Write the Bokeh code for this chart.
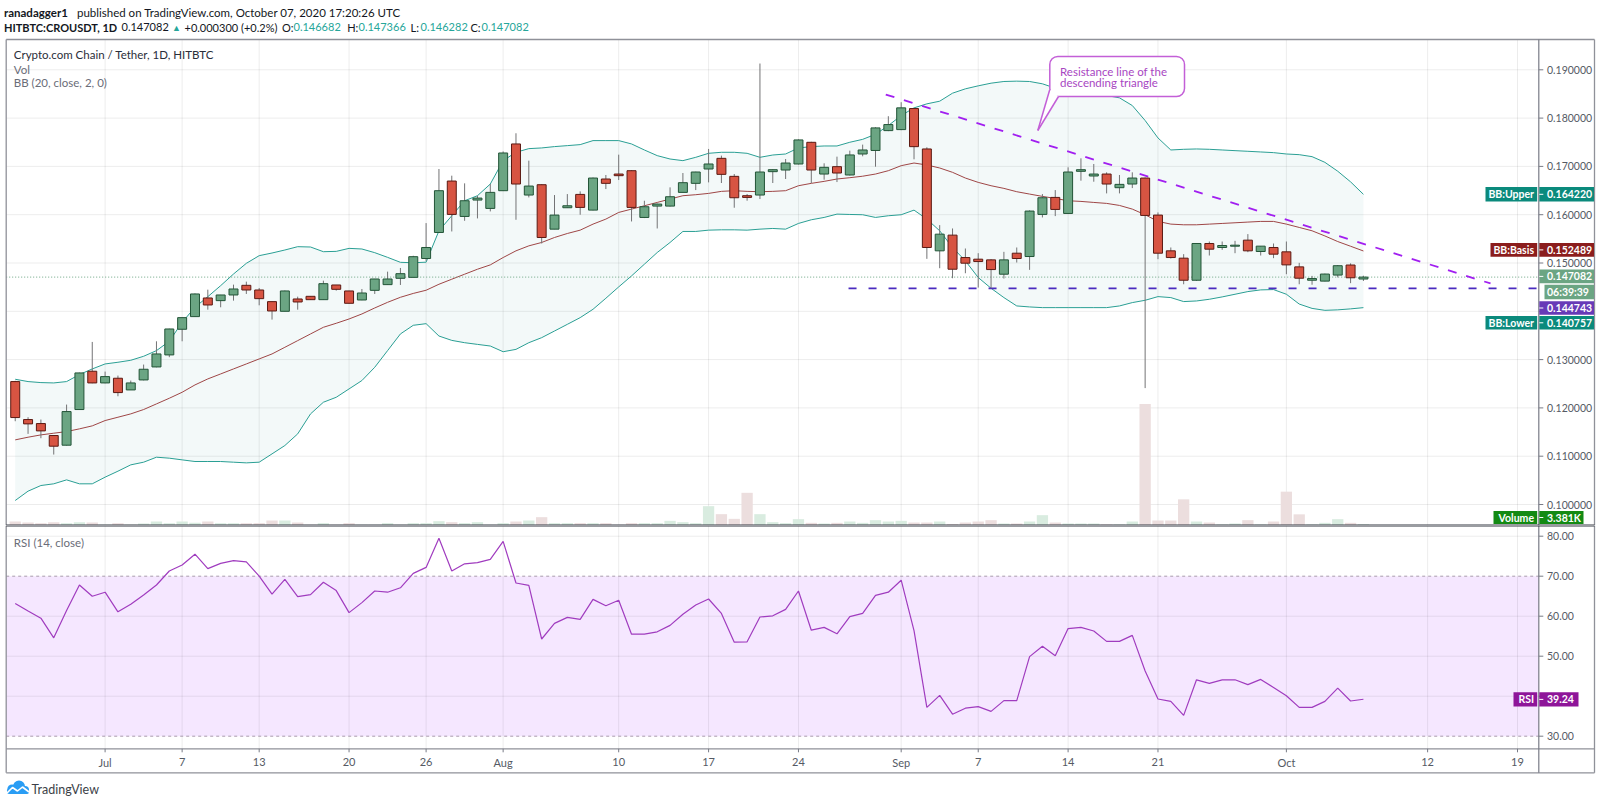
import datetime as dt
from bokeh.plotting import figure
from bokeh.models import ColumnDataSource, Range1d
from bokeh.layouts import column
from bokeh.embed import file_html
from bokeh.resources import INLINE
from bokeh.core.properties import value

FONT = "Lato"

# ---------------- data ----------------
first_day = dt.date(2020, 6, 24)

open_ = [
    .12545, .11759, .11676, .11428, .11228, .11966, .12759,
    .12517, .12614, .12372, .12579, .12848, .13097, .13628, .1389, .14276, .14221, .14338, .14538, .14441, .142,
    .14, .14255, .1431, .14241, .14545, .14421, .14234, .14434, .14552, .14683, .14703, .15093, .15632, .16697,
    .15964, .16303, .1613,
    .16497, .17465, .16407, .16621, .15701, .16144, .1642, .16095, .16739, .16842, .16911, .15943, .16178, .16178,
    .16462, .16649, .16946, .17167, .16794, .16393, .16407, .16891, .16925, .1705, .17499, .16842, .16995, .16822,
    .17257, .1733, .17741,
    .17762, .18198, .17361, .15252, .15577, .15113, .15079, .15065, .14768, .15203, .15134, .16006, .16358, .16026,
    .16898, .16801, .16842, .16559, .16635, .16759, .15992, .15252, .151, .14643, .15404, .15321, .15348, .15473,
    .15238, .15321,
    .15231, .1492, .14643, .14625, .1475, .14958, .146682]
high = [
    .1256, .11807, .11759, .1143, .12069, .1273, .13366,
    .12752, .12669, .12566, .12897, .13379, .1364, .1387, .1437, .14448, .1434, .14552, .14614, .14483, .142,
    .1443, .14303, .1431, .14634, .14545, .14425, .14462, .1467, .14821, .14897, .1515, .15826, .16946, .16808,
    .16649, .16393, .16635,
    .1731, .17686, .17119, .1663, .16407, .16427, .16483, .1677, .16822, .17243, .1692, .16289, .1623, .16566,
    .16863, .1689, .17361, .17223, .16842, .16427, .1913, .1694, .17153, .1756, .1751, .17064, .17202, .17326,
    .17451, .1781, .18039,
    .18329, .1821, .17396, .15784, .15715, .153, .15203, .1508, .15231, .15321, .1609, .16427, .1651, .16981,
    .17167, .1705, .16877, .16822, .16877, .1677, .16047, .15321, .15183, .1541, .15445, .15445, .15459, .15598,
    .1535, .15404,
    .15445, .15003, .14733, .1478, .14958, .14993, .147366]
low = [
    .11724, .11462, .11372, .11034, .1122, .1196, .1251,
    .1251, .12241, .1237, .1257, .1284, .1305, .13379, .1389, .14034, .14083, .14221, .14359, .14124, .13828,
    .14, .14034, .1424, .1424, .14428, .1416, .1423, .14359, .1455, .14545, .147, .15044, .1563, .15653,
    .15874, .15923, .16068,
    .1649, .15895, .16358, .15404, .157, .1614, .15999, .1609, .16531, .16718, .1586, .1593, .15715, .1617,
    .1646, .1651, .16669, .16656, .16144, .1629, .16324, .16656, .16739, .1704, .16656, .16725, .16676, .1681,
    .17209, .16994, .1773,
    .1775, .17147, .15086, .14892, .14685, .14788, .14491, .14477, .14678, .1501, .14858, .15943, .15971, .1602,
    .16704, .16683, .16441, .16441, .16551, .1241, .15079, .15093, .1456, .1463, .15155, .15273, .15203, .15224,
    .15155, .151,
    .14768, .1456, .1455, .1462, .14701, .14583, .146282]
close_ = [
    .1180, .11669, .11524, .11207, .11924, .12724, .12517,
    .12648, .12317, .12517, .128, .13117, .13634, .13869, .14359, .14131, .14338, .14462, .14441, .14262, .14007,
    .14421, .14193, .14241, .14572, .14455, .14166, .14379, .14669, .14669, .14779, .15131, .15321, .16497, .16006,
    .16289, .16344, .16462,
    .17278, .16635, .16593, .15528, .15992, .16185, .16151, .16759, .16649, .16808, .16151, .16165, .1622, .16372,
    .16663, .16884, .1705, .16835, .16351, .16358, .16884, .16932, .1707, .17548, .16925, .16981, .16863, .17237,
    .1734, .17797, .17866,
    .18212, .17409, .15321, .15597, .14871, .14996, .1503, .14864, .15065, .15093, .16075, .16351, .16109, .16884,
    .16932, .16842, .16635, .16628, .16759, .15985, .15203, .15113, .14643, .15404, .15286, .15362, .15369, .15252,
    .15349, .15183,
    .14961, .14685, .14678, .14771, .14944, .14694, .147082]
volume_k = [
    10.4, 7.8, 6.1, 8.7, 6.1, 8.7, 7.8,
    1.7, 6.1, 1.7, 5.2, 10.4, 6.1, 10.4, 6.9, 10.4, 6.1, 6.1, 6.1, 6.1, 13.0, 13.0, 7.8, 1.7, 6.1, 1.7, 6.1,
    1.7, 1.7, 6.1, 1.7, 6.1, 6.1, 11.3, 8.7, 6.1, 8.7, 1.7,
    6.1, 10.4, 13.0, 21.7, 6.1, 6.1, 6.1, 6.1, 6.1, 1.7, 6.1, 6.1, 6.1, 12.1, 8.7, 6.1, 50.3, 29.5, 17.3, 85.0,
    29.5, 8.7, 6.1, 16.5, 6.9, 5.2, 6.9, 10.4, 6.9, 13.9, 10.4,
    12.1, 7.8, 7.8, 10.4, 3.5, 7.8, 10.4, 13.9, 5.2, 5.2, 10.4, 26.9, 7.8, 5.2, 5.2, 5.2, 2.6, 2.6, 10.4, 316.0,
    13.0, 13.0, 68.0, 10.4, 7.8, 2.6, 5.2, 13.9, 2.6, 10.4,
    88.0, 29.0, 2.6, 6.9, 16.5, 6.9, 3.381]
bb_upper = [
    .12593, .12545, .12524, .12517, .12545, .1269, .12807,
    .1291, .12945, .12986, .13069, .13186, .13379, .13772, .14083, .14303, .14531, .14772, .14993, .15152, .15207,
    .15269, .15338, .15331, .15234, .15241, .15303, .1529, .15214, .15117, .15014, .15005, .15017, .15667, .15978,
    .16289, .16393, .16635,
    .17119, .17292, .17368, .17382, .1741, .1743, .17451, .17534, .17534, .17534, .17465, .1734, .17223, .17153,
    .17119, .17188, .17271, .17292, .17292, .17271, .17188, .17236, .17257, .17382, .1741, .17423, .17423, .175,
    .1756, .17665, .17845,
    .18053, .18212, .18295, .1835, .18516, .18606, .18668, .18723, .18758, .18765, .18758, .1871, .1862, .1855,
    .18523, .18516, .18467, .1842, .1826, .1795, .17589, .1734, .17354, .17361, .17354, .1734, .17326, .17313,
    .17299, .17285,
    .17257, .17243, .17202, .17084, .169, .1668, .16422]
bb_basis = [
    .11338, .11393, .11441, .11476, .1151, .11566, .11628,
    .11738, .11807, .11876, .11966, .12083, .122, .12324, .12476, .126, .12703, .12807, .1291, .13014, .13117,
    .13255, .13393, .13531, .13669, .13752, .13841, .13945, .14069, .14186, .1429, .1437, .14436, .1456, .14664,
    .14768, .14871, .14961,
    .15113, .15252, .15355, .15425, .15528, .15611, .1568, .15805, .15909, .16047, .16116, .16185, .16254, .16324,
    .16393, .16414, .16441, .16483, .16497, .16483, .16476, .16483, .16497, .166, .16649, .1669, .16739, .16766,
    .16797, .16842, .16911,
    .17015, .1707, .17029, .16967, .16877, .16759, .16669, .166, .16545, .16476, .16427, .16379, .16337, .16289,
    .16275, .16254, .16234, .16192, .16116, .15999, .15861, .15805, .15791, .15791, .15805, .15819, .15833, .15847,
    .15861, .15861,
    .15805, .15736, .15667, .1556, .15444, .15347, .152489]
bb_lower = [
    .10083, .10276, .10393, .10428, .1051, .10428, .10428,
    .10566, .1069, .10821, .10876, .10979, .10959, .10924, .1089, .1089, .1089, .10876, .10862, .10876, .11048,
    .11221, .11462, .11876, .12117, .1222, .12393, .12566, .12841, .13186, .13531, .1371, .13744, .13488, .13398,
    .1335, .13315, .13281,
    .13163, .13212, .1335, .13454, .13592, .1373, .13869, .14042, .1427, .14505, .14733, .14975, .15217, .15425,
    .15653, .15653, .1568, .15687, .15687, .1568, .15701, .15715, .15701, .15819, .15895, .15943, .16012, .16005,
    .15999, .15943, .15978,
    .15999, .16095, .15909, .15667, .15321, .15044, .14699, .14477, .14284, .14111, .1409, .14076, .14076, .14076,
    .14076, .14076, .14076, .14111, .1418, .14228, .14304, .14284, .14201, .14214, .14249, .14298, .14353, .14408,
    .14443, .1445,
    .14353, .1415, .1406, .1402, .1403, .1405, .140757]
rsi = [
    63.2, 61.3, 59.5, 54.6, 61.4, 67.8, 65.0,
    66.0, 61.1, 63.0, 65.3, 67.8, 71.3, 72.8, 75.5, 71.9, 73.2, 73.9, 73.6, 70.0, 65.5, 69.2, 64.9, 65.4, 68.5,
    66.4, 60.9, 63.4, 66.3, 66.0, 67.1, 70.7, 72.2, 79.5, 71.3, 73.1, 73.4, 74.2,
    78.7, 68.3, 67.7, 54.3, 58.2, 59.7, 59.2, 64.2, 62.6, 64.0, 55.5, 55.5, 56.1, 57.7, 60.5, 62.8, 64.3, 60.7,
    53.5, 53.6, 59.8, 60.1, 61.7, 66.3, 56.5, 57.2, 55.6, 59.9, 60.7, 65.2, 66.0,
    69.0, 56.4, 37.2, 40.2, 35.5, 37.0, 37.4, 36.2, 38.9, 38.9, 49.9, 52.5, 50.1, 56.9, 57.2, 56.3, 53.7, 53.7,
    55.2, 46.3, 39.3, 38.7, 35.2, 44.1, 43.2, 44.1, 44.1, 42.9, 44.2, 42.2,
    40.1, 37.2, 37.2, 38.7, 42.0, 38.8, 39.24]

tick_dates = [dt.date(2020, 7, 1), dt.date(2020, 7, 7), dt.date(2020, 7, 13), dt.date(2020, 7, 20),
              dt.date(2020, 7, 26), dt.date(2020, 8, 1), dt.date(2020, 8, 10), dt.date(2020, 8, 17),
              dt.date(2020, 8, 24), dt.date(2020, 9, 1), dt.date(2020, 9, 7), dt.date(2020, 9, 14),
              dt.date(2020, 9, 21), dt.date(2020, 10, 1), dt.date(2020, 10, 12), dt.date(2020, 10, 19)]
tick_labels = ["Jul", "7", "13", "20", "26", "Aug", "10", "17", "24", "Sep", "7", "14", "21", "Oct", "12", "19"]
price_ticks = [0.10, 0.11, 0.12, 0.13, 0.14, 0.15, 0.16, 0.17, 0.18, 0.19]
price_tick_labels = ["0.100000", "0.110000", "0.120000", "0.130000", "", "0.150000",
                     "0.160000", "0.170000", "0.180000", "0.190000"]
rsi_ticks = [30, 40, 50, 60, 70, 80]
rsi_tick_labels = ["30.00", "", "50.00", "60.00", "70.00", "80.00"]
rsi_grid = [40, 50, 60, 80]
rsi_bands = [30, 70]

support_level = 0.144743
support_start = 57.9            # days after Jul 1
resistance_days = [60.8, 107.9]
resistance_prices = [0.18488, 0.14576]

# ---------------- geometry helpers (page pixels -> data) ----------------
ref = dt.date(2020, 7, 1)
n = len(close_)
xd = [((first_day + dt.timedelta(days=i)) - ref).days for i in range(n)]
tick_x = [(d - ref).days for d in tick_dates]

PX_JUL1, PX_DAY = 104.6, 12.84
def dx(px):
    return (px - PX_JUL1) / PX_DAY
def py(y):
    return 0.19 - (y - 69.3) / 4830.0
def ry(y):
    return 80.0 - (y - 535.7) / 4.0

W = 1600
H1, H2 = 525, 279
PANE_L, AXIS_X, OUT_R = 5.7, 1538.3, 1594
TOP_Y, SEP_Y, RSI_B, OUT_B = 39, 525, 748.3, 772.3

UP_FILL, UP_LINE = "#6ba583", "#225437"
DN_FILL, DN_LINE = "#d75442", "#5b1a13"
BORDER = "#8f9199"
TICKTXT = "#555a64"

x_range = Range1d(dx(0), dx(W))


def txt(fig, x, y, s, color, size="11.5px", style="normal", align="left"):
    fig.text(x=x if isinstance(x, list) else [x], y=y if isinstance(y, list) else [y],
             text=s if isinstance(s, list) else [s], text_color=color, text_font=value(FONT),
             text_font_size=value(size), text_font_style=value(style), text_align=value(align),
             text_baseline=value("middle"))


def box(fig, conv, l, r, t, b, color):
    fig.quad(left=dx(l), right=dx(r), top=conv(t), bottom=conv(b), fill_color=color,
             line_color=None)


def tag(fig, conv, yc, h, lab_text, val_text, color, val_left=AXIS_X + 0.5, lab_left=None,
        val_right=1593.5):
    t, b = yc - h / 2, yc + h / 2
    if lab_text:
        box(fig, conv, lab_left, AXIS_X - 1.6, t, b, color)
        txt(fig, dx(1533.5), conv(yc), lab_text, "white", size="10.5px", style="bold", align="right")
    box(fig, conv, val_left, val_right, t, b, color)
    if val_left <= AXIS_X + 1:
        fig.segment(x0=dx(AXIS_X + 0.5), x1=dx(AXIS_X + 4.5), y0=conv(yc), y1=conv(yc),
                    line_color="white", line_width=1)
    txt(fig, dx(1546.5), conv(yc), val_text, "white", size="10.5px", style="bold")


def make_fig(height, y_range):
    f = figure(width=W, height=height, x_range=x_range, y_range=y_range, title=None,
               x_axis_location=None, y_axis_location=None, toolbar_location=None, tools="",
               output_backend="svg", min_border=0, background_fill_color="white",
               border_fill_color="white", outline_line_color=None)
    f.grid.visible = False
    return f


# ================= main price pane =================
p1 = make_fig(H1, Range1d(py(H1), py(0)))

# grid
p1.segment(x0=tick_x, x1=tick_x, y0=[py(TOP_Y)] * len(tick_x), y1=[py(SEP_Y)] * len(tick_x),
           line_color="#000000", line_alpha=0.075, line_width=1)
p1.segment(x0=[dx(PANE_L)] * len(price_ticks), x1=[dx(AXIS_X)] * len(price_ticks),
           y0=price_ticks, y1=price_ticks, line_color="#000000", line_alpha=0.075, line_width=1)

# volume overlay (own scale)
p1.extra_y_ranges = {"vol": Range1d(0, H1 * 2.6)}
vol_col = ["#d9ece0" if c >= o else "#ecdede" for o, c in zip(open_, close_)]
p1.vbar(x=xd, top=volume_k, bottom=0, width=0.88, fill_color=vol_col, line_color=None,
        y_range_name="vol")

# bollinger bands
p1.varea(x=xd, y1=bb_lower, y2=bb_upper, fill_color="#138484", fill_alpha=0.05)
p1.line(xd, bb_upper, line_color="#2a9f94", line_width=1)
p1.line(xd, bb_lower, line_color="#2a9f94", line_width=1)
p1.line(xd, bb_basis, line_color="#9e4646", line_width=1)

# last price dotted line
p1.line([dx(PANE_L), dx(AXIS_X)], [close_[-1], close_[-1]], line_color="#6ba583",
        line_dash="1 2", line_width=1)

# support (horizontal) and resistance (descending) lines
p1.line([support_start, dx(AXIS_X)], [support_level, support_level], line_color="#4a2bbf",
        line_dash="8 12", line_width=1.6)
p1.line(resistance_days, resistance_prices, line_color="#a11ff0", line_dash="9 10", line_width=1.8)

# candles
tops = [max(o, c) for o, c in zip(open_, close_)]
bots = [min(o, c) for o, c in zip(open_, close_)]
fills = [UP_FILL if c >= o else DN_FILL for o, c in zip(open_, close_)]
lines = [UP_LINE if c >= o else DN_LINE for o, c in zip(open_, close_)]
src = ColumnDataSource(dict(x=xd, h=high, l=low, top=tops, bot=bots, fill=fills, line=lines))
p1.segment(x0="x", y0="h", x1="x", y1="l", line_color="#737375", line_width=1, source=src)
p1.vbar(x="x", width=0.7, top="top", bottom="bot", fill_color="fill", line_color="line",
        line_width=1, source=src)

# callout
CALL = "#c35fd7"
p1.quad(left=dx(1049.3), right=dx(1184), top=py(56), bottom=py(96), fill_color="white",
        line_color=CALL, line_width=1.5, border_radius=8)
p1.patch([dx(1049.3), dx(1058), dx(1037.3)], [py(89), py(96), py(130)], fill_color="white",
         line_color=None)
p1.multi_line(xs=[[dx(1049.3), dx(1037.3)], [dx(1058), dx(1037.3)]],
              ys=[[py(89), py(130)], [py(96), py(130)]], line_color=CALL, line_width=1.5)
txt(p1, dx(1059.5), py(70.5), "Resistance line of the", "#a846c2")
txt(p1, dx(1059.5), py(81.5), "descending triangle", "#a846c2")

# pane borders and price axis
p1.segment(x0=[dx(PANE_L), dx(PANE_L), dx(OUT_R)], x1=[dx(OUT_R), dx(PANE_L), dx(OUT_R)],
           y0=[py(TOP_Y), py(TOP_Y), py(TOP_Y)], y1=[py(TOP_Y), py(SEP_Y), py(SEP_Y)],
           line_color=BORDER, line_width=1.3)
p1.segment(x0=[dx(AXIS_X)], x1=[dx(AXIS_X)], y0=[py(TOP_Y)], y1=[py(SEP_Y)],
           line_color="#787b86", line_width=1.2)
p1.segment(x0=[dx(AXIS_X)] * len(price_ticks), x1=[dx(AXIS_X + 4.5)] * len(price_ticks),
           y0=price_ticks, y1=price_ticks, line_color="#787b86", line_width=1)
txt(p1, [dx(1546.5)] * len(price_ticks), price_ticks, price_tick_labels, TICKTXT, size="10.5px")
p1.segment(x0=[dx(PANE_L)], x1=[dx(OUT_R)], y0=[py(SEP_Y)], y1=[py(SEP_Y)],
           line_color="#363a45", line_width=2.2)

# price scale tags
tag(p1, py, 193.8, 14.4, "BB:Upper", "0.164220", "#0b8a7c", lab_left=1485)
tag(p1, py, 249.4, 13.6, "BB:Basis", "0.152489", "#8b1d1d", lab_left=1490)
tag(p1, py, 275.9, 13.6, None, "0.147082", "#6ba583")
tag(p1, py, 291.5, 14.6, None, "06:39:39", "#6ba583", val_left=1544)
tag(p1, py, 307.5, 13.4, None, "0.144743", "#673ab7")
tag(p1, py, 322.3, 13.4, "BB:Lower", "0.140757", "#0b8a7c", lab_left=1485)
tag(p1, py, 517.0, 13.0, "Volume", "3.381K", "#138a13", lab_left=1493, val_right=1583)

# pane legend texts
txt(p1, dx(13.3), py(54), "Crypto.com Chain / Tether, 1D, HITBTC", "#2a2e39")
txt(p1, dx(13.3), py(69.3), "Vol", "#6a6d78")
txt(p1, dx(13.3), py(82), "BB (20, close, 2, 0)", "#6a6d78")

# header
GREEN = "#26a69a"
DARK = "#131722"
HS = "11px"
txt(p1, dx(3.5), py(11.5), "ranadagger1", DARK, style="bold")
txt(p1, dx(76.5), py(11.5), "published on TradingView.com, October 07, 2020 17:20:26 UTC", DARK)
txt(p1, dx(3.5), py(26.5), "HITBTC:CROUSDT, 1D", DARK, size=HS, style="bold")
txt(p1, dx(121), py(26.5), "0.147082", DARK, size=HS)
txt(p1, dx(171.5), py(26.5), "\u25B2", GREEN, size="9px")
txt(p1, dx(184), py(26.5), "+0.000300 (+0.2%)", DARK, size=HS)
for tx, vx, k, v in [(281.5, 293, "O:", "0.146682"), (346.7, 358, "H:", "0.147366"),
                     (410, 420, "L:", "0.146282"), (470, 481, "C:", "0.147082")]:
    txt(p1, dx(tx), py(26.5), k, DARK, size=HS)
    txt(p1, dx(vx), py(26.5), v, GREEN, size=HS)

# ================= RSI pane =================
p2 = make_fig(H2, Range1d(ry(SEP_Y + H2), ry(SEP_Y)))

p2.quad(left=dx(PANE_L), right=dx(AXIS_X), bottom=30, top=70, fill_color="#9915ff",
        fill_alpha=0.1, line_color=None)
p2.segment(x0=tick_x, x1=tick_x, y0=[ry(SEP_Y)] * len(tick_x), y1=[ry(RSI_B)] * len(tick_x),
           line_color="#000000", line_alpha=0.075, line_width=1)
p2.segment(x0=[dx(PANE_L)] * len(rsi_grid), x1=[dx(AXIS_X)] * len(rsi_grid), y0=rsi_grid,
           y1=rsi_grid, line_color="#000000", line_alpha=0.075, line_width=1)
p2.segment(x0=[dx(PANE_L)] * 2, x1=[dx(AXIS_X)] * 2, y0=rsi_bands, y1=rsi_bands,
           line_color="#a99cad", line_dash="3 3", line_width=1)
p2.line(xd, rsi, line_color="#a03cbf", line_width=1.2)

# borders, axes
p2.segment(x0=[dx(PANE_L), dx(OUT_R), dx(PANE_L), dx(PANE_L)],
           x1=[dx(PANE_L), dx(OUT_R), dx(OUT_R), dx(OUT_R)],
           y0=[ry(SEP_Y), ry(SEP_Y), ry(OUT_B), ry(RSI_B)],
           y1=[ry(OUT_B), ry(OUT_B), ry(OUT_B), ry(RSI_B)],
           line_color=BORDER, line_width=1.3)
p2.segment(x0=[dx(AXIS_X)], x1=[dx(AXIS_X)], y0=[ry(SEP_Y)], y1=[ry(OUT_B)],
           line_color="#787b86", line_width=1.2)
p2.segment(x0=[dx(PANE_L)], x1=[dx(OUT_R)], y0=[ry(SEP_Y)], y1=[ry(SEP_Y)],
           line_color="#363a45", line_width=2.2)
p2.segment(x0=[dx(AXIS_X)] * len(rsi_ticks), x1=[dx(AXIS_X + 4.5)] * len(rsi_ticks),
           y0=rsi_ticks, y1=rsi_ticks, line_color="#787b86", line_width=1)
txt(p2, [dx(1546.5)] * len(rsi_ticks), rsi_ticks, rsi_tick_labels, TICKTXT, size="10.5px")
p2.segment(x0=tick_x, x1=tick_x, y0=[ry(RSI_B)] * len(tick_x), y1=[ry(RSI_B + 3.5)] * len(tick_x),
           line_color="#787b86", line_width=1)
txt(p2, tick_x, [ry(761.5)] * len(tick_x), tick_labels, TICKTXT, size="11px", align="center")

tag(p2, ry, 698.9, 14.2, "RSI", "39.24", "#8e1599", lab_left=1513, val_right=1578)
txt(p2, dx(13.3), ry(541.7), "RSI (14, close)", "#6a6d78")

# TradingView logo
LOGO = "#2a9df4"
p2.circle(x=[dx(11.5), dx(18.5), dx(24.5)], y=[ry(788.5), ry(786), ry(789.5)],
          radius=[4.6, 6.0, 4.0], radius_units="screen", fill_color=LOGO, line_color=None)
p2.quad(left=dx(6.5), right=dx(28.5), top=ry(788), bottom=ry(793.5), fill_color=LOGO,
        line_color=None, border_radius=2)
p2.line([dx(6.5), dx(12), dx(17), dx(22), dx(28.5)],
        [ry(792.5), ry(787), ry(790.5), ry(786.5), ry(791.5)], line_color="white", line_width=1.6)
txt(p2, dx(31), ry(789), "TradingView", "#3c3f48", size="12.5px")

layout = column(p1, p2)
open("out.html", "w").write(file_html(layout, INLINE))
